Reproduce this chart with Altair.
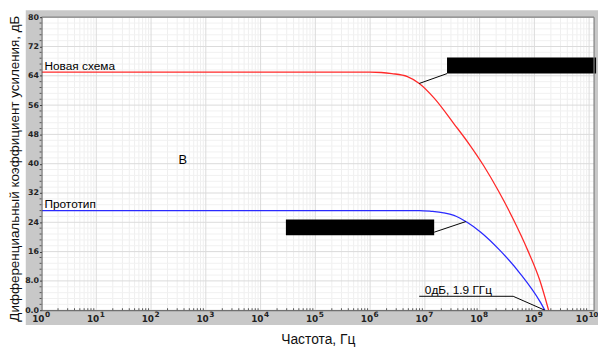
import altair as alt
import pandas as pd

# Curves (frequency in Hz, gain in dB)
red_freq = [1, 1e6, 1.6e6, 2.5e6, 4.8e6, 7.9e6, 1.48e7, 3.4e7, 6.34e7, 1.18e8, 2.2e8, 4.1e8, 7.64e8, 1.26e9, 1.82e9]
red_db = [65, 65, 64.9, 64.6, 63.8, 61.9, 57.9, 50.9, 45.5, 39.5, 32.6, 24.9, 16.2, 8.1, 0]
blue_freq = [1, 8e6, 1.3e7, 2.2e7, 3.4e7, 5.9e7, 1.05e8, 2.4e8, 5.5e8, 1.26e9, 1.55e9]
blue_db = [27.2, 27.2, 27.0, 26.6, 25.9, 24.0, 21.3, 16.2, 10.0, 2.4, 0]

x_ticks = [10 ** n for n in range(0, 11)]
x_exps = [str(n) for n in range(0, 11)]
y_ticks = list(range(0, 81, 8))
minor_x = [k * 10 ** n for n in range(0, 10) for k in range(2, 10)]
minor_y = [i * 1.6 for i in range(51) if i % 5 != 0]

texts = ["Новая схема", "Прототип", "0дБ, 1.9 ГГц"]
text_freq = [1.13, 1.13, 1.0e7]
text_db = [65.5, 27.8, 4.3]

mid_text = ["B"]
mid_freq = [378]
mid_db = [40.9]

box_f1 = [2.54e7, 2.9e4]
box_f2 = [1.34e10, 1.48e7]
box_d1 = [69.0, 24.8]
box_d2 = [64.6, 20.5]

lead_seg = [1, 1, 2, 2, 3, 3, 3]
lead_i = [0, 1, 0, 1, 0, 1, 2]
lead_f = [2.54e7, 7.9e6, 1.48e7, 5.6e7, 7.9e6, 4.1e8, 1.55e9]
lead_d = [64.6, 61.9, 21.3, 24.2, 3.8, 3.8, 0]

W, H = 560, 297
xs = alt.Scale(type="log", domain=[1, 1.23e10], nice=False)
ys = alt.Scale(domain=[0, 80], nice=False)

x_axis = alt.Axis(title="Частота, Гц", values=x_ticks, grid=False, ticks=False, labels=False,
                  zindex=1, domainColor="#555",
                  titleFont="Liberation Sans", titleFontSize=14, titleFontWeight="normal",
                  titleColor="#111", titleY=30, titleBaseline="middle")
y_axis = alt.Axis(title="Дифференциальный коэффициент усиления, дБ", values=y_ticks, grid=False,
                  zindex=1, labelOverlap=False,
                  labelExpr="datum.value < 10 ? format(datum.value, '.1f') : format(datum.value, 'd')",
                  labelFont="DejaVu Sans", labelFontWeight="bold", labelFontSize=8,
                  labelColor="#222", tickSize=2, tickColor="#333", labelPadding=1,
                  domainColor="#555",
                  titleFont="Liberation Sans", titleFontSize=13.6, titleFontWeight="normal",
                  titleColor="#111", titleX=-27, titleY=153, titleBaseline="middle")


def X(field):
    return alt.X(field, scale=xs, axis=x_axis)


def Y(field):
    return alt.Y(field, scale=ys, axis=y_axis)


one = pd.DataFrame({"a": [0]})
gray = alt.Chart(one).mark_rect(color="#c8c8c8").encode(
    x=alt.value(-16), x2=alt.value(566), y=alt.value(-7), y2=alt.value(312))
white = alt.Chart(one).mark_rect(color="white").encode(
    x=alt.value(0), x2=alt.value(W), y=alt.value(0), y2=alt.value(H))

gx_minor = alt.Chart(pd.DataFrame({"f": minor_x})).mark_rule(color="#efefef", strokeWidth=1).encode(x=X("f:Q"))
gy_minor = alt.Chart(pd.DataFrame({"d": minor_y})).mark_rule(color="#f1f1f1", strokeWidth=1).encode(y=Y("d:Q"))
gx_major = alt.Chart(pd.DataFrame({"f": x_ticks})).mark_rule(color="#dadada", strokeWidth=1).encode(x=X("f:Q"))
gy_major = alt.Chart(pd.DataFrame({"d": y_ticks})).mark_rule(color="#dadada", strokeWidth=1).encode(y=Y("d:Q"))

tx_minor = alt.Chart(pd.DataFrame({"f": minor_x})).mark_rule(color="#555", strokeWidth=1).encode(
    x=X("f:Q"), y=alt.value(H - 2), y2=alt.value(H))
ty_minor = alt.Chart(pd.DataFrame({"d": minor_y})).mark_rule(color="#555", strokeWidth=1).encode(
    y=Y("d:Q"), x=alt.value(-2), x2=alt.value(0))

border = alt.Chart(one).mark_rule(color="#808080", strokeWidth=1.2).encode(
    x=alt.value(0), x2=alt.value(W), y=alt.value(0))
border_r = alt.Chart(one).mark_rule(color="#808080", strokeWidth=1.2).encode(
    x=alt.value(W), y=alt.value(0), y2=alt.value(H))

curves = pd.concat([
    pd.DataFrame({"f": red_freq, "db": red_db, "s": "new"}),
    pd.DataFrame({"f": blue_freq, "db": blue_db, "s": "proto"}),
])
lines = alt.Chart(curves).mark_line(strokeWidth=1.3, interpolate="monotone", clip=True).encode(
    x=X("f:Q"), y=Y("db:Q"),
    color=alt.Color("s:N", scale=alt.Scale(domain=["new", "proto"], range=["#ff2a2a", "#2a2aff"]), legend=None),
    detail="s:N",
)

tick_df = pd.DataFrame({"f": x_ticks[:-1], "e": x_exps[:-1], "b": ["10"] * (len(x_ticks) - 1)})
last_df = pd.DataFrame({"f": x_ticks[-1:], "e": x_exps[-1:], "b": ["10"]})
xlab_base = alt.Chart(tick_df).mark_text(
    font="DejaVu Sans", fontWeight="bold", fontSize=9, color="#222", align="right", dx=3,
    baseline="alphabetic").encode(x=X("f:Q"), y=alt.value(H + 12), text="b:N")
xlab_exp = alt.Chart(tick_df).mark_text(
    font="DejaVu Sans", fontWeight="bold", fontSize=7.5, color="#222", align="left", dx=3.5,
    baseline="alphabetic").encode(x=X("f:Q"), y=alt.value(H + 7), text="e:N")
xlab_base_last = alt.Chart(last_df).mark_text(
    font="DejaVu Sans", fontWeight="bold", fontSize=9, color="#222", align="right", dx=-1,
    baseline="alphabetic").encode(x=X("f:Q"), y=alt.value(H + 12), text="b:N")
xlab_exp_last = alt.Chart(last_df).mark_text(
    font="DejaVu Sans", fontWeight="bold", fontSize=7, color="#222", align="left", dx=-0.5,
    baseline="alphabetic").encode(x=X("f:Q"), y=alt.value(H + 7), text="e:N")

leads = alt.Chart(pd.DataFrame({"seg": lead_seg, "i": lead_i, "f": lead_f, "d": lead_d})).mark_line(
    color="black", strokeWidth=1).encode(x=X("f:Q"), y=Y("d:Q"), detail="seg:N", order="i:Q")

boxes = alt.Chart(pd.DataFrame({"f1": box_f1, "f2": box_f2, "d1": box_d1, "d2": box_d2})).mark_rect(
    color="black").encode(x=X("f1:Q"), x2="f2", y=Y("d1:Q"), y2="d2")

labels = alt.Chart(pd.DataFrame({"t": texts, "f": text_freq, "d": text_db})).mark_text(
    font="Liberation Sans", fontSize=12, color="black", baseline="alphabetic", align="left").encode(
    x=X("f:Q"), y=Y("d:Q"), text="t:N")

mid = alt.Chart(pd.DataFrame({"t": mid_text, "f": mid_freq, "d": mid_db})).mark_text(
    font="Liberation Sans", fontSize=13, color="black", baseline="middle", align="center").encode(
    x=X("f:Q"), y=Y("d:Q"), text="t:N")

chart = alt.layer(
    gray, white, gx_minor, gy_minor, gx_major, gy_major, lines, leads, boxes, labels, mid,
    tx_minor, ty_minor, border, border_r, xlab_base, xlab_exp, xlab_base_last, xlab_exp_last
).properties(
    width=W, height=H,
    autosize=alt.AutoSizeParams(type="none"),
    padding={"left": 34, "top": 7, "right": 4, "bottom": 37},
).configure_view(stroke=None)

chart.save("out.html", embed_options={"renderer": "svg", "actions": False})
